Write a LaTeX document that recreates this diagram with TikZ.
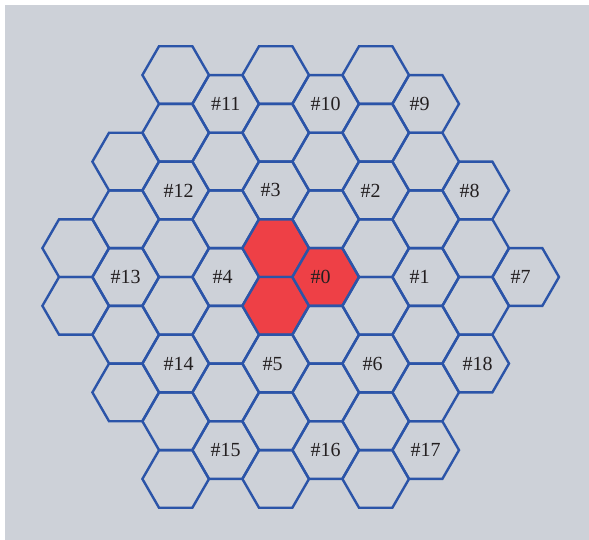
\documentclass[tikz,border=0pt]{standalone}
\usepackage{fontspec}
\setmainfont{Liberation Serif}
\usetikzlibrary{shapes.geometric}
\definecolor{bggray}{RGB}{205,209,216}
\definecolor{cellblue}{RGB}{43,84,168}
\definecolor{cellred}{RGB}{238,64,70}
\definecolor{numtext}{RGB}{35,31,32}

\begin{document}
\begin{tikzpicture}[
  x=1pt, y=1pt,
  hexcell/.style={draw=cellblue, line width=2.4pt, regular polygon, regular polygon sides=6, minimum size=66.6pt, inner sep=0pt, outer sep=0pt},
  cellnum/.style={font=\fontsize{20}{24}\selectfont, text=numtext, inner sep=0pt}
]
\useasboundingbox (0,0) rectangle (589,-540);
\fill[bggray] (5,-5) rectangle (589,-540);

% columns of cells, rows counted in half cell heights
\foreach \k/\rows in {-5/{-1,1}, -4/{-4,-2,...,4}, -3/{-7,-5,...,7}, -2/{-6,-4,...,6}, -1/{-7,-5,...,7}, 0/{-6,-4,...,6}, 1/{-7,-5,...,7}, 2/{-6,-4,...,6}, 3/{-3,-1,1,3}, 4/{0}}
  \foreach \j in \rows {
    \pgfmathtruncatemacro\isred{((\k==0) && (\j==0)) || ((\k==-1) && (abs(\j)==1))}
    \ifnum\isred=1 \def\cellfill{cellred}\else\def\cellfill{none}\fi
    \node[hexcell, fill=\cellfill] (hex\k\j) at ({325.7+50*\k}, {-277-28.85*\j}) {};
  }

\node[cellnum, xshift=-5pt] (n0) at (hex00) {\#0};
\node[cellnum, xshift=-6pt] (n1) at (hex20) {\#1};
\node[cellnum, xshift=-5pt] (n2) at (hex1-3) {\#2};
\node[cellnum, xshift=-5pt] (n3) at (hex-1-3) {\#3};
\node[cellnum, xshift=-3pt] (n4) at (hex-20) {\#4};
\node[cellnum, xshift=-3pt] (n5) at (hex-13) {\#5};
\node[cellnum, xshift=-3pt] (n6) at (hex13) {\#6};
\node[cellnum, xshift=-5pt] (n7) at (hex40) {\#7};
\node[cellnum, xshift=-6pt] (n8) at (hex3-3) {\#8};
\node[cellnum, xshift=-6pt] (n9) at (hex2-6) {\#9};
\node[cellnum] (n10) at (hex0-6) {\#10};
\node[cellnum] (n11) at (hex-2-6) {\#11};
\node[cellnum, xshift=3pt] (n12) at (hex-3-3) {\#12};
\node[cellnum] (n13) at (hex-40) {\#13};
\node[cellnum, xshift=3pt] (n14) at (hex-33) {\#14};
\node[cellnum] (n15) at (hex-26) {\#15};
\node[cellnum] (n16) at (hex06) {\#16};
\node[cellnum] (n17) at (hex26) {\#17};
\node[cellnum, xshift=2pt] (n18) at (hex33) {\#18};
\end{tikzpicture}
\end{document}
